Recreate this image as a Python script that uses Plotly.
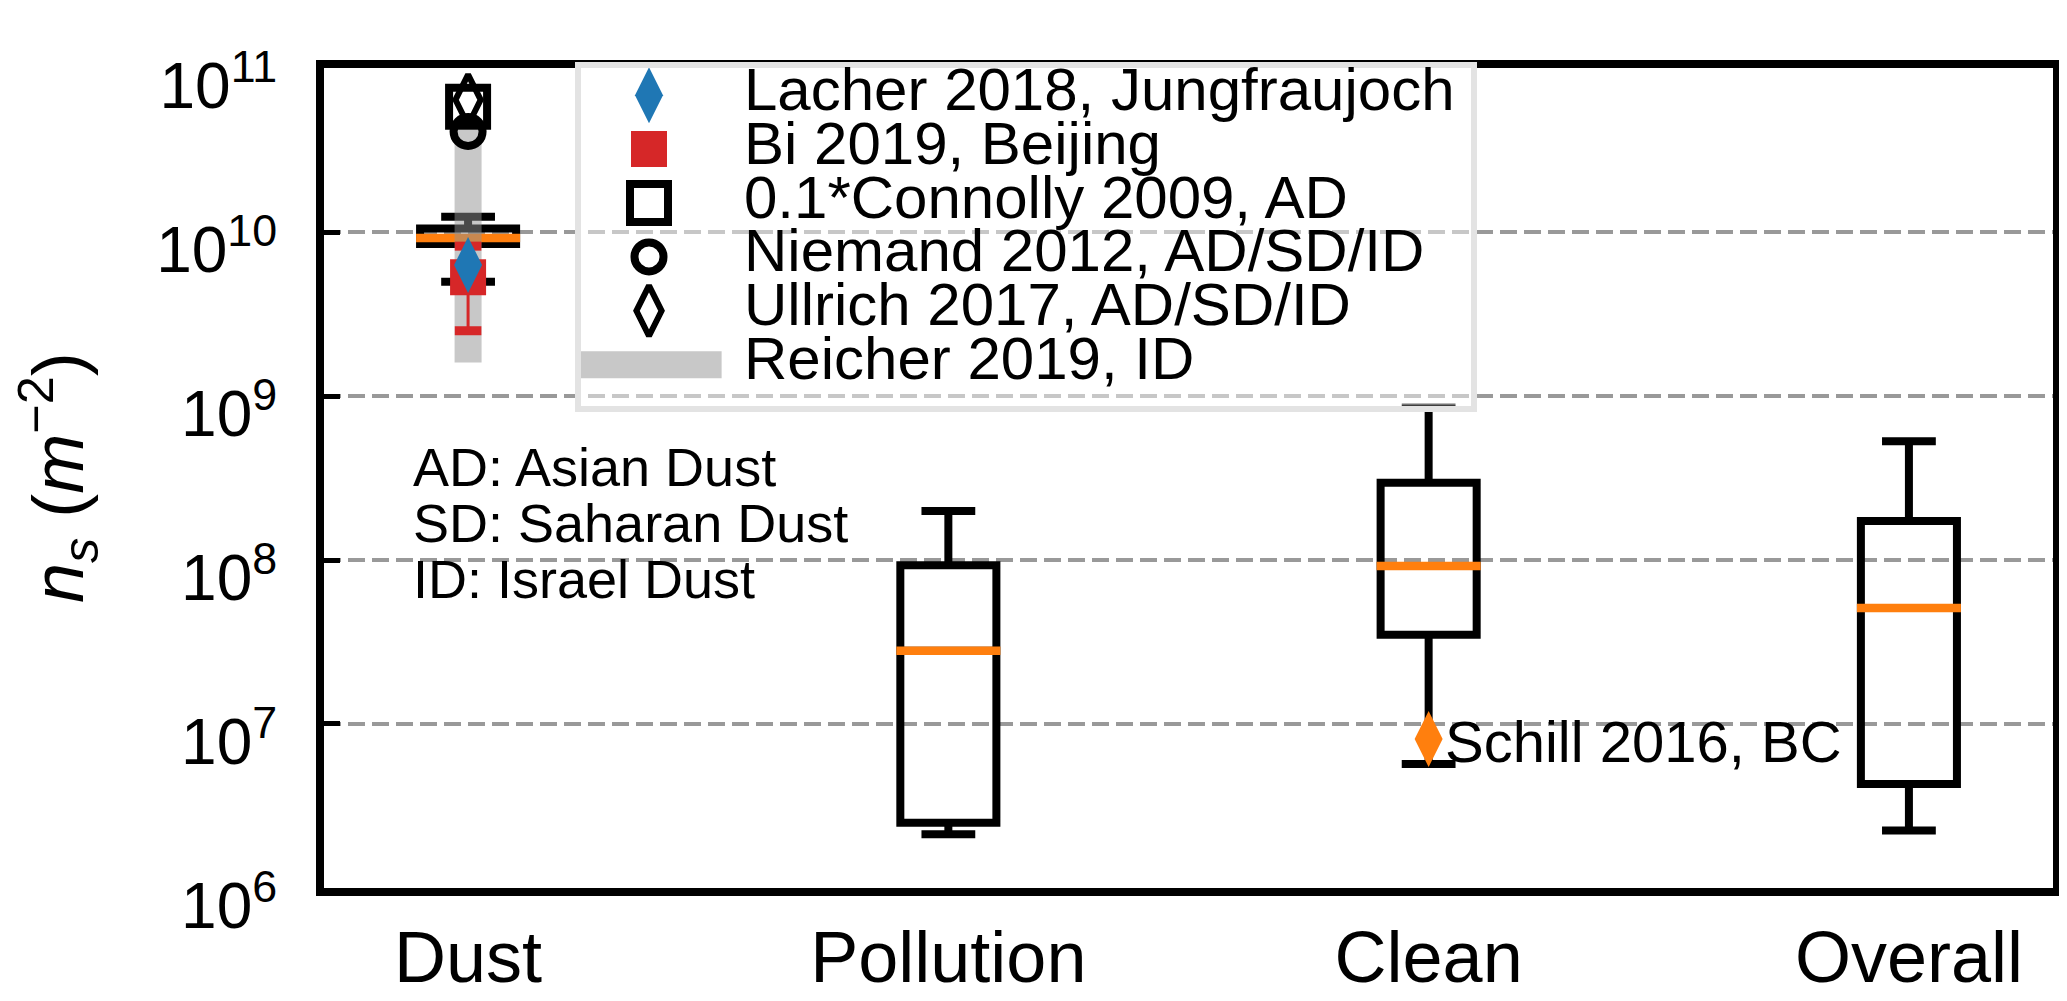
import math
import plotly.graph_objects as go

# box statistics (ns in m^-2)
CATEGORIES = ["Dust", "Pollution", "Clean", "Overall"]
POSITIONS = [1, 2, 3, 4]
Q1 = [8.45e9, 2.5e6, 3.5e7, 4.3e6]
MEDIAN = [9.2e9, 2.8e7, 9.2e7, 5.1e7]
Q3 = [1.05e10, 9.3e7, 2.96e8, 1.73e8]
LOWER = [4.97e9, 2.13e6, 5.7e6, 2.24e6]
UPPER = [1.24e10, 1.99e8, 8.5e8, 5.3e8]

# literature values drawn on the Dust column
LACHER = 6.3e9
BI = 5.3e9
BI_LOW, BI_HIGH = 2.5e9, 8.2e9
CONNOLLY = 5.8e10
NIEMAND = 4.1e10
ULLRICH = 6.4e10
REICHER = [1.6e9, 4.2e10]
SCHILL = 8.1e6  # plotted on the Clean column

LEGEND_LABELS = [
    "Lacher 2018, Jungfraujoch",
    "Bi 2019, Beijing",
    "0.1*Connolly 2009, AD",
    "Niemand 2012, AD/SD/ID",
    "Ullrich 2017, AD/SD/ID",
    "Reicher 2019, ID",
]
NOTE_LINES = ["AD: Asian Dust", "SD: Saharan Dust", "ID: Israel Dust"]
EXPONENTS = [6, 7, 8, 9, 10, 11]

FONT = "Liberation Sans, Arial, sans-serif"
W, H = 2067, 1001
L, R, T, B = 316, 22, 60, 98
PLOT_W = W - L - R
PLOT_H = H - T - B
BOX_W = 0.2
PX_PER_X = PLOT_W / 3.6


def paper_x(px):
    return (px - L) / PLOT_W


def paper_y(py):
    return (H - B - py) / PLOT_H


fig = go.Figure()

fig.add_trace(go.Box(
    x=POSITIONS, q1=Q1, median=MEDIAN, q3=Q3,
    lowerfence=LOWER, upperfence=UPPER,
    width=BOX_W, whiskerwidth=0.56,
    line=dict(color="black", width=8),
    fillcolor="rgba(0,0,0,0)", boxpoints=False,
    showlegend=False, hoverinfo="skip",
))

# orange median bars over the box outline
half = BOX_W / 2 + 4 / PX_PER_X
mx, my = [], []
for p, m in zip(POSITIONS, MEDIAN):
    mx += [p - half, p + half, None]
    my += [m, m, None]
fig.add_trace(go.Scatter(x=mx, y=my, mode="lines",
                         line=dict(color="#ff7f0e", width=8.5),
                         showlegend=False, hoverinfo="skip"))

dust = POSITIONS[0]
fig.add_trace(go.Scatter(x=[dust, dust], y=REICHER, mode="lines",
                         line=dict(color="rgba(146,146,146,0.5)", width=27),
                         showlegend=False, hoverinfo="skip"))

fig.add_trace(go.Scatter(
    x=[dust], y=[BI], mode="markers",
    marker=dict(symbol="square", size=36, color="#d62728"),
    error_y=dict(type="data", symmetric=False, array=[BI_HIGH - BI],
                 arrayminus=[BI - BI_LOW], thickness=3, width=0, color="#d62728"),
    showlegend=False, hoverinfo="skip",
))
fig.add_trace(go.Scatter(
    x=[dust, dust], y=[BI_LOW, BI_HIGH], mode="markers",
    marker=dict(symbol="line-ew", size=19, line=dict(color="#d62728", width=9)),
    showlegend=False, hoverinfo="skip",
))

fig.add_trace(go.Scatter(x=[dust], y=[LACHER], mode="markers",
                         marker=dict(symbol="diamond-tall", size=40, color="#1f77b4"),
                         showlegend=False, hoverinfo="skip"))
fig.add_trace(go.Scatter(x=[dust], y=[CONNOLLY], mode="markers",
                         marker=dict(symbol="square-open", size=38, color="black",
                                     line=dict(color="black", width=8)),
                         showlegend=False, hoverinfo="skip"))
fig.add_trace(go.Scatter(x=[dust], y=[NIEMAND], mode="markers",
                         marker=dict(symbol="circle-open", size=29, color="black",
                                     line=dict(color="black", width=8)),
                         showlegend=False, hoverinfo="skip"))
fig.add_trace(go.Scatter(x=[dust], y=[ULLRICH], mode="markers",
                         marker=dict(symbol="diamond-tall-open", size=36, color="black",
                                     line=dict(color="black", width=6)),
                         showlegend=False, hoverinfo="skip"))

clean = POSITIONS[2]
fig.add_trace(go.Scatter(x=[clean], y=[SCHILL], mode="markers",
                         marker=dict(symbol="diamond-tall", size=40, color="#ff7f0e"),
                         showlegend=False, hoverinfo="skip"))
fig.add_annotation(x=clean, y=math.log10(SCHILL), xref="x", yref="y",
                   text="Schill 2016, BC", showarrow=False,
                   xanchor="left", yanchor="middle", xshift=14, yshift=-2,
                   font=dict(size=58, color="black", family=FONT))

# hand-built legend inset (a small subplot, so its background dims what is under it)
LEG_LEFT, LEG_RIGHT, LEG_BOTTOM = 573, 1463, 407
ROW0, ROW_STEP = 88, 55.4
HANDLE_X, TEXT_X = 0.0764, 0.181
rows = list(range(len(LEGEND_LABELS)))
leg_markers = [
    dict(symbol="diamond-tall", size=40, color="#1f77b4"),
    dict(symbol="square", size=36, color="#d62728"),
    dict(symbol="square-open", size=38, color="black", line=dict(color="black", width=8)),
    dict(symbol="circle-open", size=29, color="black", line=dict(color="black", width=8)),
    dict(symbol="diamond-tall-open", size=36, color="black", line=dict(color="black", width=6)),
]
for r, mk in zip(rows, leg_markers):
    fig.add_trace(go.Scatter(x=[HANDLE_X], y=[r], mode="markers", marker=mk,
                             xaxis="x2", yaxis="y2", showlegend=False, hoverinfo="skip"))
fig.add_trace(go.Scatter(x=[0, 0.158], y=[rows[-1], rows[-1]], mode="lines",
                         line=dict(color="rgba(146,146,146,0.5)", width=27),
                         xaxis="x2", yaxis="y2", showlegend=False, hoverinfo="skip"))
for r, lab in zip(rows, LEGEND_LABELS):
    fig.add_annotation(x=TEXT_X, y=r, xref="x2", yref="y2", text=lab, showarrow=False,
                       xanchor="left", yanchor="middle", yshift=6,
                       font=dict(size=60, color="black", family=FONT))

for i, line in enumerate(NOTE_LINES):
    fig.add_annotation(x=paper_x(403), y=paper_y(470 + 57.5 * i), xref="paper", yref="paper",
                       text=line, showarrow=False, xanchor="left", yanchor="middle",
                       font=dict(size=54, color="black", family=FONT))

fig.add_annotation(x=paper_x(50), y=0.5, xref="paper", yref="paper",
                   text="<i>n<sub>s</sub></i> (<i>m</i><sup>−2</sup>)",
                   textangle=-90, showarrow=False, xanchor="center", yanchor="middle",
                   font=dict(size=72, color="black", family=FONT))

fig.update_layout(
    width=W, height=H,
    margin=dict(l=L, r=R, t=T, b=B),
    paper_bgcolor="white",
    plot_bgcolor="rgba(255,255,255,0.45)",
    font=dict(family=FONT, color="black"),
    showlegend=False,
    xaxis=dict(
        range=[0.7, 4.3], tickvals=POSITIONS, ticktext=CATEGORIES,
        tickfont=dict(size=72), showgrid=False, zeroline=False, ticks="",
        showline=True, mirror=True, linecolor="black", linewidth=8,
    ),
    yaxis=dict(
        type="log", range=[5.9999, 11.0001],
        tickvals=[10 ** e for e in EXPONENTS],
        ticktext=[f"10<sup>{e}</sup>" for e in EXPONENTS],
        tickfont=dict(size=64), ticks="inside", ticklen=16, tickwidth=5, tickcolor="black",
        ticklabelshift=18, ticklabelstandoff=26, ticklabeloverflow="allow",
        showgrid=True, gridcolor="#999999", gridwidth=4, griddash="17px,7px",
        zeroline=False, showline=True, mirror=True, linecolor="black", linewidth=8,
    ),
    xaxis2=dict(
        domain=[paper_x(LEG_LEFT), paper_x(LEG_RIGHT)], anchor="y2", range=[0, 1],
        showticklabels=False, showgrid=False, zeroline=False, ticks="",
        showline=True, mirror=True, linecolor="#e3e3e3", linewidth=6, fixedrange=True,
    ),
    yaxis2=dict(
        domain=[paper_y(LEG_BOTTOM), 1.0], anchor="x2",
        range=[(LEG_BOTTOM - ROW0) / ROW_STEP, (T - ROW0) / ROW_STEP],
        showticklabels=False, showgrid=False, zeroline=False, ticks="",
        showline=True, mirror=True, linecolor="#e3e3e3", linewidth=6, fixedrange=True,
    ),
)

fig.write_html("out.html")
